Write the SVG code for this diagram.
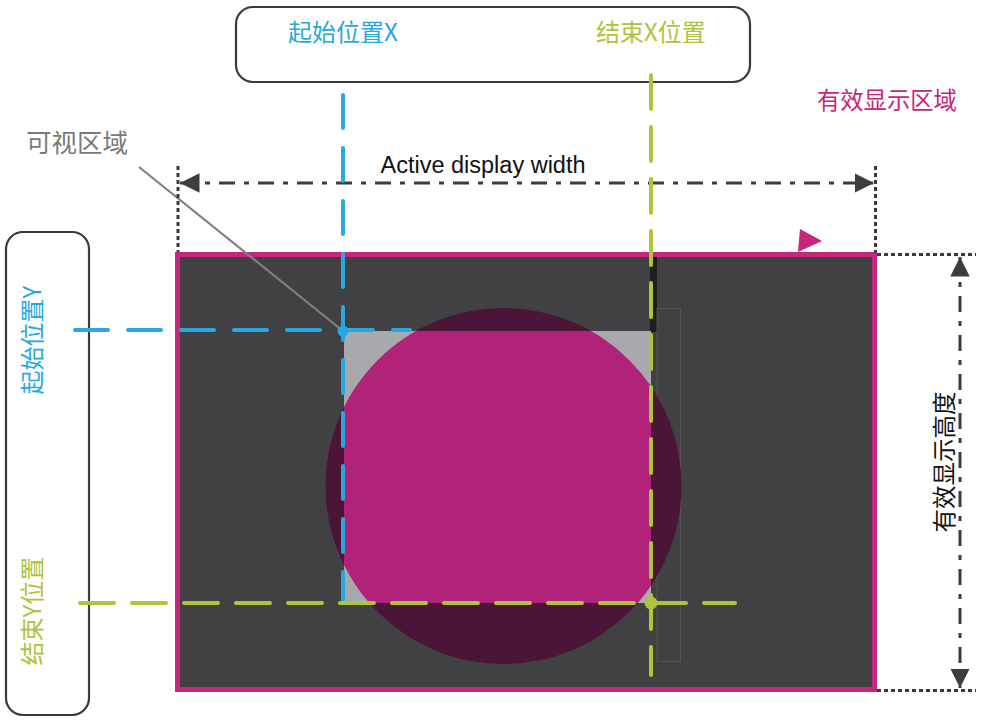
<svg xmlns="http://www.w3.org/2000/svg" width="986" height="720" viewBox="0 0 986 720">
<style>
.cjk{font-family:"Noto Sans CJK SC","Noto Sans",sans-serif}
.lat{font-family:"Liberation Sans",Arial,sans-serif}
.box{fill:#fff;stroke:#3a3a3a;stroke-width:2.2}
.blue{stroke:#27a8e0;stroke-width:4;fill:none;stroke-linecap:round;stroke-dasharray:33 20}
.green{stroke:#aec43a;stroke-width:4;fill:none;stroke-linecap:round;stroke-dasharray:34 18}
.dot{stroke:#3a3a3a;stroke-width:3;fill:none;stroke-dasharray:4 3}
.dim{stroke:#3d3d3d;stroke-width:3;fill:none;stroke-dasharray:16 9 5 9}
</style>
<defs>
<clipPath id="visclip"><rect x="344" y="331" width="307" height="272"/></clipPath>
<marker id="ah" viewBox="0 0 10 10" refX="10" refY="5" markerWidth="6.5" markerHeight="6.5" markerUnits="strokeWidth" orient="auto-start-reverse"><path d="M0,0 L10,5 L0,10 z" fill="#3d3d3d"/></marker>
</defs>
<rect width="986" height="720" fill="#fff"/>

<g id="display-area">
<rect x="177.5" y="254.5" width="697" height="435" fill="#414042" stroke="#c6267b" stroke-width="5"/>
<rect x="650" y="257" width="7" height="75" fill="#1e1e1e"/>
<rect x="657" y="308.5" width="23.5" height="353" fill="none" stroke="#535355" stroke-width="1"/>
<polygon points="800,229 822,241 798,252" fill="#c6267b"/>
</g>

<g id="circle-object">
<circle cx="503.5" cy="486" r="178" fill="#4b1537"/>
</g>

<g id="visible-area">
<rect x="344" y="331" width="307" height="272" fill="#a7a9ac"/>
<circle cx="503.5" cy="486" r="178" fill="#b02378" clip-path="url(#visclip)"/>
</g>

<g id="top-box">
<rect class="box" x="236" y="7" width="514" height="75" rx="17"/>
<text class="cjk" x="288" y="41" font-size="24" fill="#27a8e0">起始位置X</text>
<text class="cjk" x="596" y="41" font-size="24" fill="#aec43a">结束X位置</text>
</g>

<g id="left-box">
<rect class="box" x="6" y="232" width="83" height="483" rx="17"/>
<text class="cjk" transform="translate(41,340) rotate(-90)" text-anchor="middle" font-size="24" fill="#27a8e0">起始位置Y</text>
<text class="cjk" transform="translate(41,611) rotate(-90)" text-anchor="middle" font-size="24" fill="#aec43a">结束Y位置</text>
</g>

<g id="label-visible">
<text class="cjk" x="26" y="152" font-size="25.5" fill="#7a7a7a">可视区域</text>
</g>

<g id="label-active">
<text class="cjk" x="817" y="109" font-size="23.3" fill="#c6267b">有效显示区域</text>
</g>

<g id="label-width">
<text class="lat" x="483" y="173" font-size="23.5" fill="#111" text-anchor="middle">Active display width</text>
</g>

<g id="label-height">
<text class="cjk" transform="translate(953,462) rotate(-90)" text-anchor="middle" font-size="23.5" fill="#111">有效显示高度</text>
</g>

<g id="connectors">
<line x1="139" y1="167" x2="343" y2="331" stroke="#808080" stroke-width="2.2"/>
<line class="dot" x1="178" y1="166" x2="178" y2="252"/>
<line class="dot" x1="875.5" y1="166" x2="875.5" y2="253"/>
<line class="dot" x1="877" y1="254.5" x2="976" y2="254.5"/>
<line class="dot" x1="877" y1="690.5" x2="976" y2="690.5"/>
<line class="dim" x1="180" y1="183" x2="874" y2="183" marker-start="url(#ah)" marker-end="url(#ah)"/>
<line class="dim" x1="960" y1="257" x2="960" y2="688" marker-start="url(#ah)" marker-end="url(#ah)"/>
<line class="blue" x1="343" y1="95" x2="343" y2="600"/>
<line class="blue" x1="75" y1="330" x2="410" y2="330"/>
<circle cx="343" cy="331" r="5.5" fill="#27a8e0"/>
<line class="green" x1="651" y1="75" x2="651" y2="675"/>
<line class="green" x1="80" y1="603" x2="735" y2="603"/>
<circle cx="651" cy="603" r="6.5" fill="#aec43a"/>
</g>
</svg>
